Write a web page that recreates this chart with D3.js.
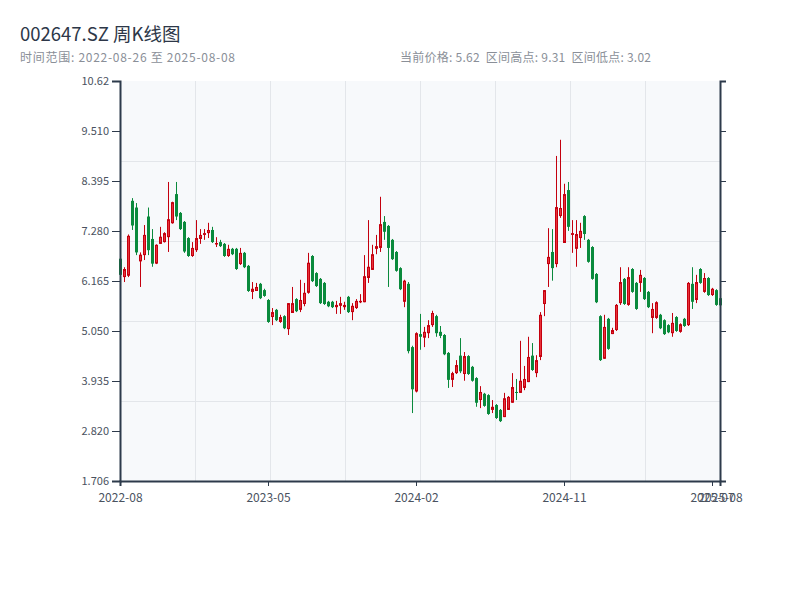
<!DOCTYPE html>
<html>
<head>
<meta charset="utf-8">
<script src="https://cdn.jsdelivr.net/npm/d3@7"></script>
<style>
  body { margin: 0; background: #fff; }
  text { font-family: "Noto Sans CJK SC", "Noto Sans", sans-serif; }
</style>
</head>
<body>
<div id="chart"></div>
<script>
// weekly candles, 002647.SZ
var dates = [
  '2022-08-26','2022-09-02','2022-09-09','2022-09-16','2022-09-23','2022-09-30','2022-10-14','2022-10-21','2022-10-28','2022-11-04',
  '2022-11-11','2022-11-18','2022-11-25','2022-12-02','2022-12-09','2022-12-16','2022-12-23','2022-12-30','2023-01-06','2023-01-13',
  '2023-01-20','2023-02-03','2023-02-10','2023-02-17','2023-02-24','2023-03-03','2023-03-10','2023-03-17','2023-03-24','2023-03-31',
  '2023-04-07','2023-04-14','2023-04-21','2023-04-28','2023-05-05','2023-05-12','2023-05-19','2023-05-26','2023-06-02','2023-06-09',
  '2023-06-16','2023-06-23','2023-06-30','2023-07-07','2023-07-14','2023-07-21','2023-07-28','2023-08-04','2023-08-11','2023-08-18',
  '2023-08-25','2023-09-01','2023-09-08','2023-09-15','2023-09-22','2023-09-28','2023-10-13','2023-10-20','2023-10-27','2023-11-03',
  '2023-11-10','2023-11-17','2023-11-24','2023-12-01','2023-12-08','2023-12-15','2023-12-22','2023-12-29','2024-01-05','2024-01-12',
  '2024-01-19','2024-01-26','2024-02-02','2024-02-08','2024-02-23','2024-03-01','2024-03-08','2024-03-15','2024-03-22','2024-03-29',
  '2024-04-03','2024-04-12','2024-04-19','2024-04-26','2024-04-30','2024-05-10','2024-05-17','2024-05-24','2024-05-31','2024-06-07',
  '2024-06-14','2024-06-21','2024-06-28','2024-07-05','2024-07-12','2024-07-19','2024-07-26','2024-08-02','2024-08-09','2024-08-16',
  '2024-08-23','2024-08-30','2024-09-06','2024-09-13','2024-09-20','2024-09-27','2024-09-30','2024-10-11','2024-10-18','2024-10-25',
  '2024-11-01','2024-11-08','2024-11-15','2024-11-22','2024-11-29','2024-12-06','2024-12-13','2024-12-20','2024-12-27','2025-01-03',
  '2025-01-10','2025-01-17','2025-01-24','2025-01-27','2025-02-07','2025-02-14','2025-02-21','2025-02-28','2025-03-07','2025-03-14',
  '2025-03-21','2025-03-28','2025-04-03','2025-04-11','2025-04-18','2025-04-25','2025-04-30','2025-05-09','2025-05-16','2025-05-23',
  '2025-05-30','2025-06-06','2025-06-13','2025-06-20','2025-06-27','2025-07-04','2025-07-11','2025-07-18','2025-07-25','2025-08-01',
  '2025-08-08'
];

var open = [
  6.66,6.25,6.28,7.95,7.80,6.60,6.74,7.60,7.10,6.55,
  6.99,7.03,7.14,7.45,8.10,7.68,7.48,7.12,6.72,6.85,
  7.10,7.19,7.23,7.30,6.99,7.03,6.99,6.72,6.88,6.88,
  6.54,6.79,6.50,5.92,5.94,6.10,5.96,5.74,5.36,5.52,
  5.25,5.38,5.09,5.45,5.76,5.52,5.65,5.90,6.72,6.34,
  6.21,6.12,5.70,5.70,5.58,5.61,5.58,5.81,5.47,5.56,
  5.69,5.69,6.23,6.41,6.88,6.90,7.48,7.39,7.08,6.81,
  6.45,5.70,6.10,4.69,3.70,4.98,4.90,5.00,5.18,5.38,
  5.03,4.96,4.56,3.96,4.11,4.50,4.09,4.49,4.25,4.00,
  3.51,3.65,3.62,3.29,3.40,3.29,3.13,3.29,3.45,3.69,
  3.67,3.78,3.91,4.50,4.11,4.47,5.65,6.54,6.81,6.54,
  7.61,7.01,8.19,7.19,6.88,7.12,7.61,7.08,6.92,6.32,
  5.38,4.43,5.32,4.98,5.07,5.67,6.21,5.63,6.43,6.12,
  6.12,6.23,5.92,5.34,5.34,5.41,5.29,5.18,5.00,5.36,
  5.03,5.32,5.18,6.10,5.74,6.43,5.92,6.23,5.85,5.96,
  5.78
];

var high = [
  6.70,6.47,7.20,8.01,7.90,6.80,7.41,7.80,7.32,6.98,
  7.37,7.25,8.37,7.93,8.37,7.70,7.50,7.14,7.03,7.52,
  7.32,7.32,7.46,7.37,7.14,7.08,7.01,6.97,6.90,6.90,
  6.90,6.81,6.52,6.14,6.12,6.12,5.99,5.76,5.56,5.54,
  5.41,5.40,5.67,6.03,5.78,6.19,6.12,6.79,6.74,6.36,
  6.23,6.14,5.72,5.72,5.72,5.81,5.70,5.83,5.67,5.76,
  5.87,6.74,7.52,6.97,7.19,8.04,7.61,7.41,7.10,6.83,
  6.47,6.19,6.14,4.72,5.02,5.43,5.14,5.29,5.50,5.41,
  5.16,4.98,4.58,4.14,4.40,4.89,4.58,4.51,4.27,4.02,
  3.82,3.67,3.64,3.51,3.42,3.31,3.67,3.60,4.11,3.98,
  4.83,4.27,4.92,4.78,4.51,5.47,5.96,7.34,7.32,8.95,
  9.31,8.33,8.37,7.52,7.52,7.46,7.63,7.10,6.94,6.34,
  5.40,5.41,5.34,5.12,5.65,6.47,6.23,6.47,6.45,6.14,
  6.41,6.25,5.94,5.67,5.71,5.43,5.31,5.20,5.45,5.38,
  5.22,5.34,6.14,6.47,6.30,6.45,6.34,6.25,6.01,5.98,
  5.83
];

var low = [
  6.25,6.14,6.25,7.30,6.74,6.03,6.63,6.74,6.48,6.54,
  6.99,7.02,6.81,7.44,7.52,7.30,6.79,6.70,6.70,6.81,
  6.99,7.08,7.12,7.01,6.92,6.92,6.70,6.70,6.74,6.41,
  6.52,6.45,5.92,5.76,5.94,5.76,5.81,5.23,5.18,5.27,
  5.23,5.09,4.96,5.45,5.47,5.47,5.60,5.88,6.14,6.03,
  5.65,5.63,5.58,5.56,5.43,5.43,5.52,5.45,5.29,5.54,
  5.67,5.69,6.12,6.41,6.76,6.81,7.08,6.03,6.63,6.37,
  5.96,5.58,4.55,3.22,3.68,4.63,4.69,4.89,5.14,4.92,
  4.89,4.51,3.78,3.80,4.09,4.11,3.94,4.07,3.92,3.36,
  3.33,3.36,3.18,3.22,3.09,3.02,3.13,3.29,3.45,3.51,
  3.67,3.73,3.91,4.16,4.02,4.40,5.38,6.03,6.17,6.47,
  7.57,7.01,7.28,6.79,6.48,6.90,7.08,6.57,6.19,5.67,
  4.38,4.43,4.63,4.98,5.05,5.63,5.63,5.61,5.90,5.52,
  5.92,5.74,5.56,5.00,5.32,5.09,4.96,5.00,4.92,5.03,
  5.01,5.14,5.16,5.54,5.67,6.10,5.90,5.83,5.83,5.61,
  5.55
];

var close = [
  6.30,6.43,7.17,7.40,6.80,6.75,7.19,6.85,6.55,6.97,
  7.15,7.23,7.54,7.92,7.60,7.32,6.82,6.72,6.90,7.12,
  7.19,7.23,7.30,7.03,7.01,6.94,6.72,6.88,6.76,6.43,
  6.79,6.47,5.94,5.99,6.03,5.78,5.83,5.25,5.47,5.29,
  5.36,5.11,5.67,5.67,5.49,5.74,5.90,6.57,6.16,6.05,
  5.67,5.65,5.60,5.58,5.63,5.67,5.63,5.47,5.61,5.72,
  5.72,6.27,6.48,6.76,6.94,7.43,7.26,6.90,6.65,6.39,
  5.98,6.17,4.60,3.75,5.00,4.92,5.03,5.18,5.45,5.00,
  4.94,4.53,3.96,4.11,4.29,4.15,4.49,4.09,3.94,3.45,
  3.69,3.38,3.20,3.36,3.11,3.04,3.55,3.58,3.80,3.67,
  3.94,3.98,4.47,4.18,4.40,5.41,5.96,6.70,6.45,7.81,
  7.79,8.10,7.37,7.23,7.21,7.28,7.21,6.59,6.21,5.69,
  4.40,5.14,4.65,5.07,5.63,6.14,5.65,6.25,5.92,5.54,
  6.30,5.76,5.58,5.54,5.69,5.11,4.98,5.02,5.23,5.05,
  5.20,5.16,6.12,5.70,6.14,6.12,6.23,5.85,5.99,5.63,
  5.62
];

var yTickLabels = ['1.706', '2.820', '3.935', '5.050', '6.165', '7.280', '8.395', '9.510', '10.62'];
var yMin = 1.706, yMax = 10.62;
var xTickIdx = [0, 37, 74, 111, 148, 150];

var data = dates.map(function(d, i) {
  return { date: d, o: open[i], h: high[i], l: low[i], c: close[i] };
});

var margin = { top: 81, right: 80, bottom: 119, left: 120 },
    width = 800 - margin.left - margin.right,
    height = 600 - margin.top - margin.bottom;

var svg = d3.select('#chart')
    .append('svg')
        .attr('width', 800)
        .attr('height', 600);

// header
svg.append('text')
    .attr('x', 20).attr('y', 41)
    .attr('font-size', '18.5px')
    .attr('fill', '#2d3748')
    .text('002647.SZ 周K线图');

svg.append('text')
    .attr('x', 20).attr('y', 62)
    .attr('font-size', '12px')
    .attr('fill', '#8a8f98')
    .attr('textLength', 215)
    .text('时间范围: 2022-08-26 至 2025-08-08');

svg.append('text')
    .attr('x', 400).attr('y', 62)
    .attr('font-size', '12px')
    .attr('fill', '#8a8f98')
    .attr('xml:space', 'preserve')
    .attr('textLength', 251)
    .text('当前价格: 5.62  区间高点: 9.31  区间低点: 3.02');

var g = svg.append('g')
    .attr('transform', 'translate(' + margin.left + ',' + margin.top + ')');

var x = d3.scalePoint()
    .domain(dates)
    .range([0, width]);

var y = d3.scaleLinear()
    .domain([yMin, yMax])
    .range([height, 0]);

// plot background
g.append('rect')
    .attr('width', width)
    .attr('height', height)
    .attr('fill', '#f7f9fb');

// grid lines
g.selectAll('.hgrid')
    .data(d3.range(1, 5))
    .enter().append('line')
    .attr('x1', 0).attr('x2', width)
    .attr('y1', k => Math.round(height * k / 5) + 0.5)
    .attr('y2', k => Math.round(height * k / 5) + 0.5)
    .attr('stroke', '#e3e6ea');

g.selectAll('.vgrid')
    .data(d3.range(1, 8))
    .enter().append('line')
    .attr('y1', 0).attr('y2', height)
    .attr('x1', k => Math.round(width * k / 8) + 0.5)
    .attr('x2', k => Math.round(width * k / 8) + 0.5)
    .attr('stroke', '#e3e6ea');

// candles (snapped to whole pixels so the 3px bodies stay crisp)
var upStroke = '#c4000e', upFill = '#e8323a', downColor = '#0a8a3c';

var cx = d => Math.round(x(d.date));

var candle = g.selectAll('.candle')
    .data(data)
    .enter().append('g');

candle.append('line')
    .attr('x1', d => cx(d) + 0.5)
    .attr('x2', d => cx(d) + 0.5)
    .attr('y1', d => y(d.h))
    .attr('y2', d => y(d.l))
    .attr('stroke', d => d.c >= d.o ? upStroke : downColor)
    .attr('stroke-width', 1);

// up: 2px rect + 1px stroke -> 3px outer with light core; down: solid 3px
candle.filter(d => d.c >= d.o).append('rect')
    .attr('x', d => cx(d) - 0.5)
    .attr('y', d => y(d.c) + 0.5)
    .attr('width', 2)
    .attr('height', d => Math.max(0.5, y(d.o) - y(d.c) - 1))
    .attr('fill', upFill)
    .attr('stroke', upStroke)
    .attr('stroke-width', 1);

candle.filter(d => d.c < d.o).append('rect')
    .attr('x', d => cx(d) - 1)
    .attr('y', d => y(d.o))
    .attr('width', 3)
    .attr('height', d => Math.max(1, y(d.c) - y(d.o)))
    .attr('fill', downColor);

// axes
var yTicks = d3.range(9).map(k => yMin + k * (yMax - yMin) / 8);

var yAxisCall = d3.axisLeft(y)
    .tickValues(yTicks)
    .tickSize(8)
    .tickPadding(3)
    .tickFormat((d, i) => yTickLabels[i]);
var yAxis = g.append('g').call(yAxisCall);

var yRight = g.append('g')
    .attr('transform', 'translate(' + width + ',0)')
    .call(d3.axisRight(y).tickValues(yTicks).tickSize(6).tickFormat(''));

var xAxisCall = d3.axisBottom(x)
    .tickValues(xTickIdx.map(i => dates[i]))
    .tickSize(5)
    .tickPadding(7)
    .tickFormat(d => d.slice(0, 7));
var xAxis = g.append('g')
    .attr('transform', 'translate(0,' + height + ')')
    .call(xAxisCall);

[yAxis, yRight, xAxis].forEach(a => {
    a.select('.domain').attr('stroke', '#2d3a4b').attr('stroke-width', 2);
    a.selectAll('.tick line').attr('stroke', '#2d3a4b');
    a.selectAll('.tick text')
        .attr('fill', '#4a5260')
        .attr('font-size', '11px')
        .attr('font-family', '"Noto Sans CJK SC", "Noto Sans", sans-serif');
});
xAxis.selectAll('.tick text').attr('font-size', '12px');
</script>
</body>
</html>
